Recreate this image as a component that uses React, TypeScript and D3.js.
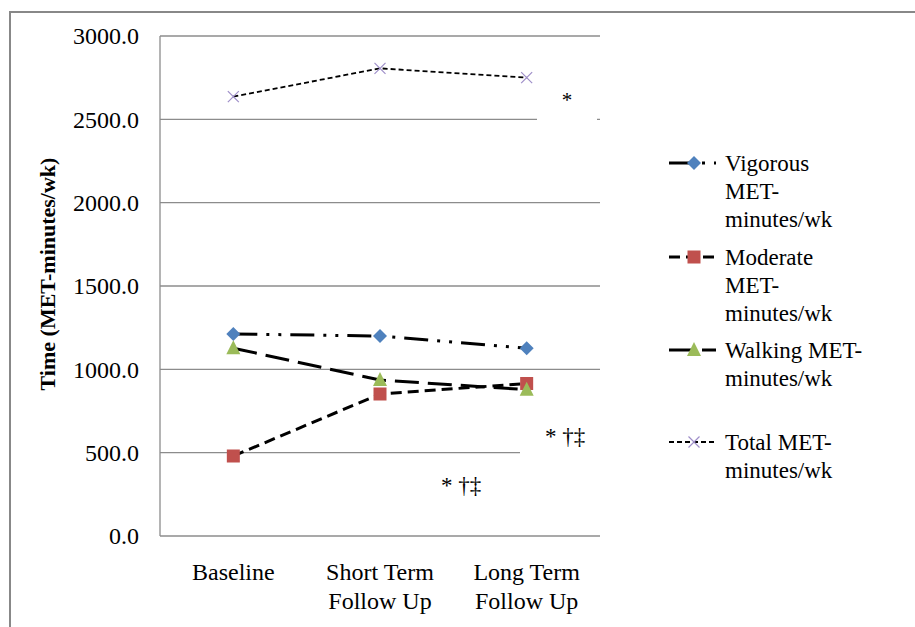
import React from "react";
import * as d3 from "d3";

// Physical activity by assessment point (MET-minutes per week)
const categories = ["Baseline", "Short Term|Follow Up", "Long Term|Follow Up"];
const vigorous = [1212, 1200, 1127];
const moderate = [480, 852, 915];
const walking = [1127, 936, 878];
const total = [2636, 2806, 2750];
const yTicks = [0, 500, 1000, 1500, 2000, 2500, 3000];

const FONT = "Liberation Serif, Times New Roman, Tinos, DejaVu Serif, serif";

type Series = {
  name: string[];
  values: number[];
  dash: string;
  width: number;
  marker: "diamond" | "square" | "triangle" | "x";
  color: string;
};

const series: Series[] = [
  { name: ["Vigorous", "MET-", "minutes/wk"], values: vigorous, dash: "24 9 3 9 3 9", width: 3, marker: "diamond", color: "#4F81BD" },
  { name: ["Moderate", "MET-", "minutes/wk"], values: moderate, dash: "11 6", width: 3, marker: "square", color: "#C0504D" },
  { name: ["Walking MET-", "minutes/wk"], values: walking, dash: "24 9", width: 3, marker: "triangle", color: "#9BBB59" },
  { name: ["Total MET-", "minutes/wk"], values: total, dash: "5 3", width: 1.8, marker: "x", color: "#9F8FC9" },
];

const legendY = [163, 257, 350, 442];

function Marker({ kind, x, y, color }: { kind: Series["marker"]; x: number; y: number; color: string }) {
  if (kind === "diamond") {
    const r = 7;
    return <path d={`M${x},${y - r}L${x + r},${y}L${x},${y + r}L${x - r},${y}Z`} fill={color} />;
  }
  if (kind === "square") {
    const r = 6.5;
    return <rect x={x - r} y={y - r} width={2 * r} height={2 * r} fill={color} />;
  }
  if (kind === "triangle") {
    const r = 7;
    return <path d={`M${x},${y - r - 1}L${x + r},${y + r - 1}L${x - r},${y + r - 1}Z`} fill={color} />;
  }
  const r = 5.5;
  return (
    <path
      d={`M${x - r},${y - r}L${x + r},${y + r}M${x - r},${y + r}L${x + r},${y - r}`}
      stroke={color}
      strokeWidth={1.2}
      fill="none"
    />
  );
}

export default function App() {
  const left = 160;
  const right = 600;
  const top = 36;
  const bottom = 536;

  const x = d3.scalePoint<string>().domain(categories).range([left, right]).padding(0.5);
  const y = d3.scaleLinear().domain([0, 3000]).range([bottom, top]);
  const line = d3
    .line<number>()
    .x((_, i) => x(categories[i]) as number)
    .y((d) => y(d));

  const gridColor = "#8c8c8c";

  return (
    <svg
      width={915}
      height={627}
      style={{ position: "absolute", left: 0, top: 0, background: "#fff", fontFamily: FONT }}
    >
      {/* outer frame */}
      <rect x={10} y={12} width={930} height={640} fill="none" stroke="#888" strokeWidth={2} />

      {/* gridlines */}
      {yTicks.map((t) => (
        <line key={t} x1={left} x2={right} y1={y(t)} y2={y(t)} stroke={gridColor} strokeWidth={1.3} />
      ))}
      <line x1={left} x2={left} y1={top} y2={bottom} stroke={gridColor} strokeWidth={1.3} />

      {/* y tick labels */}
      {yTicks.map((t) => (
        <text key={t} x={139} y={y(t)} dy="0.35em" textAnchor="end" fontSize={24} fill="#000">
          {t.toFixed(1)}
        </text>
      ))}

      {/* y axis title */}
      <text
        transform={`translate(47, 274) rotate(-90)`}
        textAnchor="middle"
        dy="0.35em"
        fontSize={22}
        fontWeight="bold"
      >
        Time (MET-minutes/wk)
      </text>

      {/* x category labels */}
      {categories.map((c) =>
        c.split("|").map((part, j) => (
          <text key={c + j} x={x(c)} y={572 + j * 29} dy="0.35em" textAnchor="middle" fontSize={24}>
            {part}
          </text>
        ))
      )}

      {/* series */}
      {series.map((s) => (
        <g key={s.name.join(" ")}>
          <path d={line(s.values) || ""} fill="none" stroke="#000" strokeWidth={s.width} strokeDasharray={s.dash} />
          {s.values.map((v, i) => (
            <Marker key={i} kind={s.marker} x={x(categories[i]) as number} y={y(v)} color={s.color} />
          ))}
        </g>
      ))}

      {/* significance annotations */}
      <rect x={537} y={80} width={60} height={44} fill="#fff" />
      <text x={567} y={100} dy="0.35em" textAnchor="middle" fontSize={21}>*</text>
      <rect x={520} y={412} width={80} height={48} fill="#fff" />
      <text x={545} y={436} dy="0.35em" fontSize={23}>* †‡</text>
      <text x={441} y={485} dy="0.35em" fontSize={23}>* †‡</text>

      {/* legend */}
      {series.map((s, i) => (
        <g key={"lg" + i}>
          <line x1={669} x2={716} y1={legendY[i]} y2={legendY[i]} stroke="#000" strokeWidth={s.width} strokeDasharray={s.dash} />
          <Marker kind={s.marker} x={694} y={legendY[i]} color={s.color} />
          {s.name.map((n, j) => (
            <text key={j} x={725} y={legendY[i] + j * 28} dy="0.35em" fontSize={23}>
              {n}
            </text>
          ))}
        </g>
      ))}
    </svg>
  );
}
